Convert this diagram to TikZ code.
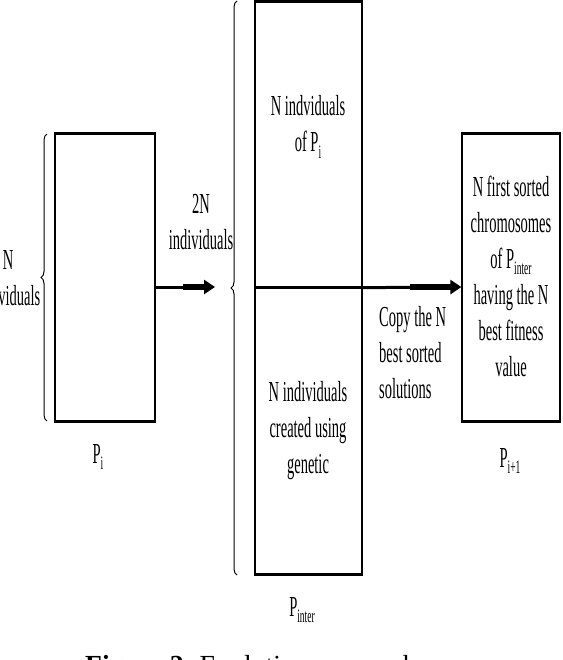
\documentclass[tikz,border=0pt]{standalone}
\usepackage{fontspec}
\setmainfont{Liberation Serif}
\newfontfamily\condfont[FakeStretch=0.5]{Liberation Serif}
\usetikzlibrary{decorations.pathreplacing,arrows.meta}
\newcommand\sbs[1]{\raisebox{-0.22em}{\fontsize{19}{19}\selectfont #1}}
\begin{document}
\begin{tikzpicture}[x=1pt,y=-1pt,
  lbl/.style={font=\condfont\fontsize{29}{36}\selectfont, align=center, inner sep=0pt},
  boxnode/.style={draw, line width=1.3pt, inner sep=0pt},
  edgeline/.style={line width=3pt},
  bracestyle/.style={decorate, decoration={brace, amplitude=6pt}, line width=1pt},
  arrowline/.style={line width=3pt, -{Triangle[length=11pt,width=14pt]}},
  arrowfat/.style={line width=6pt}]
\clip (0,0) rectangle (562,660);
\fill[white] (0,0) rectangle (562,660);

% boxes
\node[boxnode, minimum width=100pt, minimum height=287pt] (pi) at (105,277.5) {};
\node[boxnode, minimum width=107pt, minimum height=285pt] (top) at (308.5,144.5) {};
\node[boxnode, minimum width=107pt, minimum height=287pt] (bot) at (308.5,430.5) {};
\node[boxnode, minimum width=98pt, minimum height=287pt] (pf) at (511,277.5) {};

\draw[edgeline] (pi.north west) -- (pi.north east);
\draw[edgeline] (pi.south west) -- (pi.south east);
\draw[edgeline] (top.north west) -- (top.north east);
\draw[edgeline] (top.south west) -- (top.south east);
\draw[edgeline] (bot.south west) -- (bot.south east);
\draw[edgeline] (pf.north west) -- (pf.north east);
\draw[edgeline] (pf.south west) -- (pf.south east);

% braces
\coordinate (b1a) at (47,421);
\coordinate (b1b) at (47,134);
\draw[bracestyle] (b1a) -- (b1b);
\coordinate (b2a) at (237,575);
\coordinate (b2b) at (237,1);
\draw[bracestyle] (b2a) -- (b2b);

% arrows
\coordinate (a1e) at (215,287);
\coordinate (a1m) at (183,287);
\draw[arrowline] ([yshift=-9.5pt]pi.east) -- (a1e);
\draw[arrowfat] (a1m) -- ([xshift=-9pt]a1e);
\coordinate (a2m) at (410,287);
\draw[arrowline] (top.south east) -- ([yshift=-9.5pt]pf.west);
\draw[arrowfat] (a2m) -- ([xshift=-9pt,yshift=-9.5pt]pf.west);

% texts
\node[lbl] (tn) at (8,278) {N\\individuals};
\node[lbl] (t2n) at (201,222) {2N\\individuals};
\node[lbl] (ttop) at (308,127) {N indviduals\\of P\sbs{i}};
\node[lbl] (tbot) at (308,431) {N individuals\\created using\\genetic};
\node[lbl] (tpinter) at (302,610) {P\sbs{inter}};
\node[lbl, align=left, anchor=west] (tcopy) at (379,353) {Copy the N\\best sorted\\solutions};
\node[lbl] (tpf) at (511,276) {N first sorted\\chromosomes\\of P\sbs{inter}\\having the N\\best fitness\\value};
\node[lbl] (tpi) at (98,457) {P\sbs{i}};
\node[lbl] (tpi1) at (510,461) {P\sbs{i+1}};
\node[font=\fontsize{27.6}{30}\selectfont, anchor=base west, inner sep=0pt] (cap) at (85,674) {\textbf{Figure 2.} Evolution approach};
\end{tikzpicture}
\end{document}
